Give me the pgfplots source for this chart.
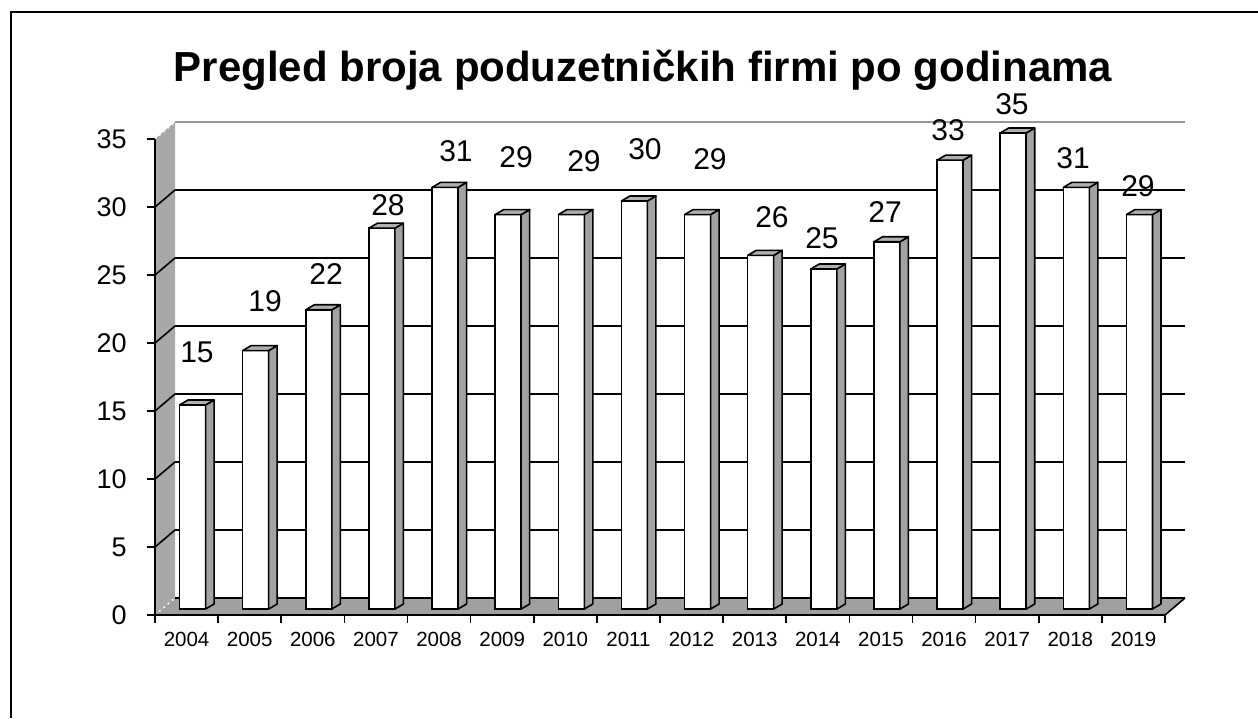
\documentclass[border=0pt]{standalone}
\usepackage{pgfplots}
\pgfplotsset{compat=1.18}
\usepackage{pgfplotstable}
\usepackage{fontspec}
\setmainfont{Liberation Sans}
\definecolor{wallgray}{RGB}{168,168,168}
\definecolor{floorgray}{RGB}{160,160,160}
\definecolor{sidegray}{RGB}{162,162,162}
\definecolor{topgray}{RGB}{176,176,176}
\definecolor{gridtop}{RGB}{150,150,150}

\pgfplotstableread{
x  v  lx     ly
0  15 0.165  19.34
1  19 1.243  23.09
2  22 2.209  25.07
3  28 3.191  30.15
4  31 4.268  34.12
5  29 5.219  33.68
6  29 6.296  33.38
7  30 7.262  34.26
8  29 8.292  33.53
9  26 9.274  29.26
10 25 10.066 27.72
11 27 11.065 29.63
12 33 12.063 35.66
13 35 13.076 37.57
14 31 14.043 33.60
15 29 15.072 31.54
}\datatable

\pgfdeclareplotmark{nothing}{}

\begin{document}
\begin{tikzpicture}
\useasboundingbox (0,0) rectangle (629pt,359pt);
\draw[line width=1pt] (5.5pt,0) -- (5.5pt,353pt) -- (629pt,353pt);
\node[anchor=base, font=\fontsize{21}{25}\selectfont\bfseries] at (321.5pt,318pt) {Pregled broja poduzetničkih firmi po godinama};
\begin{axis}[
  at={(77.5pt,51.5pt)}, anchor=south west,
  scale only axis, width=505pt, height=238pt,
  xmin=-0.5, xmax=15.5, ymin=0, ymax=35,
  clip=false, axis on top,
  axis x line*=bottom, axis y line*=left,
  axis line style={line width=0.8pt, black},
  ytick={0,5,...,35},
  xtick={0,...,15},
  xticklabels={2004,2005,2006,2007,2008,2009,2010,2011,2012,2013,2014,2015,2016,2017,2018,2019},
  minor xtick={-0.5,0.5,...,15.5},
  tick align=outside,
  major tick length=4pt, minor tick length=4pt,
  tick style={black, line width=0.8pt},
  major x tick style={draw=none},
  /pgf/number format/assume math mode=true,
  yticklabel style={font=\fontsize{13.5}{15}\selectfont, anchor=east, inner sep=0pt, xshift=-10pt},
  xticklabel style={font=\fontsize{10.25}{12}\selectfont, anchor=north, inner sep=0pt, yshift=-4.5pt},
]
% walls and floor
\fill[wallgray] (axis cs:-0.5,0) -- (axis cs:-0.5,35) -- ++(10pt,8.5pt) -- ++(0pt,-238pt) -- cycle;
\fill[floorgray] (axis cs:-0.5,0) -- (axis cs:15.5,0) -- ++(10pt,8.5pt) -- ++(-505pt,0pt) -- cycle;
\draw[line width=0.8pt] (axis cs:15.5,0) -- ++(10pt,8.5pt);
% back grid lines
\pgfplotsinvokeforeach{0,5,10,15,20,25,30}{
  \draw[line width=0.8pt] (axis cs:-0.5,#1) ++(10pt,8.5pt) -- ++(505pt,0pt);
}
\pgfplotsinvokeforeach{5,10,15,20,25,30}{
  \draw[line width=0.8pt] (axis cs:-0.5,#1) -- ++(10pt,8.5pt);
}
\draw[line width=0.8pt, gridtop] (axis cs:-0.5,35) ++(10pt,8.5pt) -- ++(505pt,0pt);
\draw[white, dotted, line width=0.8pt] (axis cs:-0.5,35) -- ++(10pt,8.5pt);
\draw[white, dotted, line width=0.8pt] (axis cs:-0.5,0) -- ++(10pt,8.5pt);
% bars (front faces)
\addplot[ybar, bar width=13pt, bar shift=3pt, yshift=3pt, fill=white, draw=black, line width=0.8pt]
  table[x=x, y=v] {\datatable};
% bar sides and tops
\addplot[scatter, only marks, mark=nothing,
  visualization depends on={\thisrow{v} \as \val},
  scatter/@pre marker code/.code={%
    \filldraw[fill=sidegray, draw=black, line width=0.8pt, line join=round]
      (9.5pt,3pt) -- ++(4.25pt,2.5pt) -- ++(0pt,-\val*6.8pt) -- ++(-4.25pt,-2.5pt) -- cycle;
    \filldraw[fill=topgray, draw=black, line width=0.8pt, line join=round]
      (-3.5pt,3pt) -- (9.5pt,3pt) -- ++(4.25pt,2.5pt) -- (0.75pt,5.5pt) -- cycle;
  },
  scatter/@post marker code/.code={}
] table[x=x, y=v] {\datatable};
% value labels
\addplot[only marks, mark=nothing, point meta=explicit symbolic,
  nodes near coords,
  nodes near coords style={anchor=center, inner sep=0pt, font=\fontsize{15}{17}\selectfont, text=black}]
  table[x=lx, y=ly, meta=v] {\datatable};
\end{axis}
\end{tikzpicture}
\end{document}
